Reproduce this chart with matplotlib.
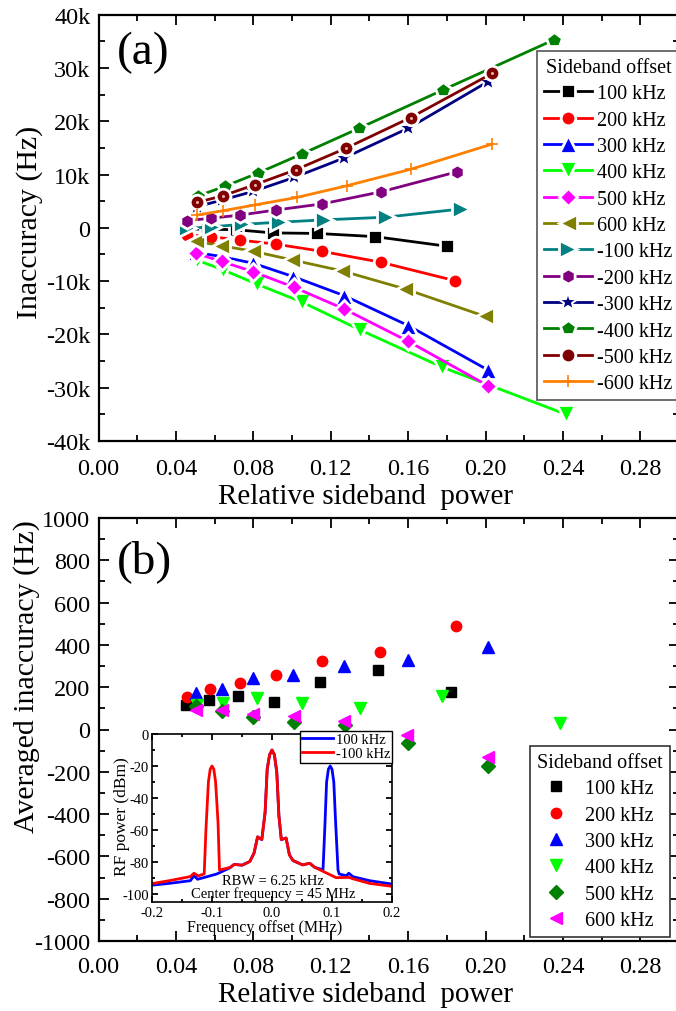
import matplotlib
matplotlib.use('Agg')
import matplotlib.pyplot as plt
from matplotlib.ticker import MultipleLocator

plt.rcParams['font.family'] = ['Liberation Serif', 'DejaVu Serif']
plt.rcParams['axes.unicode_minus'] = False

# ---------------- Panel (a) data ----------------
labels_a = ['100 kHz', '200 kHz', '300 kHz', '400 kHz', '500 kHz', '600 kHz',
            '-100 kHz', '-200 kHz', '-300 kHz', '-400 kHz', '-500 kHz', '-600 kHz']
a_100_x = [0.044, 0.056, 0.071, 0.090, 0.113, 0.143, 0.180]
a_100_y = [-200, -250, -350, -950, -1050, -1650, -3450]
a_200_x = [0.0455, 0.058, 0.073, 0.0915, 0.1153, 0.1458, 0.1840]
a_200_y = [-1300, -1650, -2300, -3050, -4400, -6450, -9900]
a_300_x = [0.0503, 0.0636, 0.0800, 0.1006, 0.1268, 0.1601, 0.2011]
a_300_y = [-4600, -5400, -6650, -9150, -12700, -18350, -26650]
a_400_x = [0.0507, 0.0645, 0.0817, 0.1053, 0.1351, 0.1776, 0.2416]
a_400_y = [-6050, -7900, -10550, -13950, -19150, -26150, -35000]
a_500_x = [0.0503, 0.0636, 0.0800, 0.1010, 0.1268, 0.1601, 0.2011]
a_500_y = [-4800, -6300, -8250, -11150, -15200, -21300, -29600]
a_600_x = [0.0503, 0.0633, 0.0800, 0.0998, 0.1256, 0.1583, 0.1997]
a_600_y = [-2550, -3350, -4400, -6000, -8050, -11450, -16600]
a_m100_x = [0.0458, 0.0585, 0.0740, 0.0930, 0.1165, 0.1484, 0.1875]
a_m100_y = [-100, 200, 650, 1050, 1500, 2000, 3550]
a_m200_x = [0.0458, 0.0579, 0.0731, 0.0917, 0.1156, 0.1458, 0.1851]
a_m200_y = [1350, 1800, 2400, 3350, 4500, 6750, 10500]
a_m300_x = [0.0507, 0.0636, 0.0800, 0.1010, 0.1268, 0.1601, 0.2011]
a_m300_y = [3950, 5200, 6850, 9450, 13100, 18700, 27400]
a_m400_x = [0.0515, 0.0653, 0.0825, 0.1053, 0.1347, 0.1781, 0.2354]
a_m400_y = [6000, 7800, 10300, 13900, 18700, 25900, 35300]
a_m500_x = [0.0510, 0.0641, 0.0808, 0.1019, 0.1279, 0.1613, 0.2035]
a_m500_y = [4800, 6000, 8100, 10900, 14950, 20700, 29000]
a_m600_x = [0.0510, 0.0641, 0.0808, 0.1024, 0.1283, 0.1614, 0.2032]
a_m600_y = [2400, 3200, 4300, 5700, 7900, 11000, 15700]

a_x = [a_100_x, a_200_x, a_300_x, a_400_x, a_500_x, a_600_x,
       a_m100_x, a_m200_x, a_m300_x, a_m400_x, a_m500_x, a_m600_x]
a_y = [a_100_y, a_200_y, a_300_y, a_400_y, a_500_y, a_600_y,
       a_m100_y, a_m200_y, a_m300_y, a_m400_y, a_m500_y, a_m600_y]
colors_a = ['#000000', '#ff0000', '#0000ff', '#00ff00', '#ff00ff', '#808000',
            '#008080', '#800080', '#000080', '#008000', '#800000', '#ff8000']
markers_a = ['s', 'o', '^', 'v', 'D', '<', '>', 'h', '*', 'p', 'o', '+']

xticks = [0.00, 0.04, 0.08, 0.12, 0.16, 0.20, 0.24, 0.28]
xticklabels = ['0.00', '0.04', '0.08', '0.12', '0.16', '0.20', '0.24', '0.28']
a_yticks = [-40000, -30000, -20000, -10000, 0, 10000, 20000, 30000, 40000]
a_yticklabels = ['-40k', '-30k', '-20k', '-10k', '0', '10k', '20k', '30k', '40k']

# ---------------- Panel (b) data ----------------
labels_b = ['100 kHz', '200 kHz', '300 kHz', '400 kHz', '500 kHz', '600 kHz']
b_100_x = [0.0452, 0.0572, 0.0722, 0.0908, 0.1143, 0.1446, 0.1824]
b_100_y = [115, 140, 160, 130, 225, 280, 178]
b_200_x = [0.0455, 0.0576, 0.0731, 0.0915, 0.1153, 0.1454, 0.1845]
b_200_y = [155, 190, 220, 256, 326, 368, 490]
b_300_x = [0.0503, 0.0636, 0.0800, 0.1006, 0.1268, 0.1601, 0.2011]
b_300_y = [174, 190, 245, 256, 298, 328, 392]
b_400_x = [0.0507, 0.0645, 0.0817, 0.1053, 0.1351, 0.1776, 0.2385]
b_400_y = [118, 126, 147, 126, 100, 158, 33]
b_500_x = [0.0503, 0.0639, 0.0800, 0.1010, 0.1273, 0.1601, 0.2015]
b_500_y = [110, 87, 58, 35, 20, -64, -174]
b_600_x = [0.0503, 0.0636, 0.0800, 0.1010, 0.1268, 0.1595, 0.2011]
b_600_y = [90, 91, 71, 63, 39, -25, -128]
b_x = [b_100_x, b_200_x, b_300_x, b_400_x, b_500_x, b_600_x]
b_y = [b_100_y, b_200_y, b_300_y, b_400_y, b_500_y, b_600_y]
colors_b = ['#000000', '#ff0000', '#0000ff', '#00ff00', '#008000', '#ff00ff']
markers_b = ['s', 'o', '^', 'v', 'D', '<']
b_yticks = [-1000, -800, -600, -400, -200, 0, 200, 400, 600, 800, 1000]
b_yticklabels = ['-1000', '-800', '-600', '-400', '-200', '0', '200', '400', '600', '800', '1000']

# ---------------- Inset spectrum data ----------------
spec_red_x = [-0.200, -0.170, -0.136, -0.130, -0.123, -0.113, -0.110, -0.106, -0.103, -0.100,
              -0.097, -0.094, -0.090, -0.0875, -0.070, -0.063, -0.050, -0.037, -0.030, -0.024,
              -0.017, -0.0115, -0.008, -0.004, 0.000, 0.004, 0.008, 0.0115, 0.0155, 0.0235,
              0.029, 0.035, 0.051, 0.063, 0.071, 0.107, 0.128, 0.135, 0.163, 0.200]
spec_red_y = [-93.5, -91.6, -89.1, -87.0, -88.7, -87.4, -59, -30, -22, -20,
              -22, -30, -55, -85, -83.4, -81.5, -82.0, -79.7, -74.5, -64.3,
              -66.0, -49, -22, -13, -10, -13, -24, -51, -66, -65,
              -75.5, -79.1, -81.8, -80.8, -83.3, -89.8, -89.6, -90.5, -93.4, -95.2]
spec_blue_x = [-0.200, -0.170, -0.136, -0.130, -0.124, -0.092, -0.070, -0.063, -0.050, -0.037,
               -0.030, -0.024, -0.017, -0.0115, -0.008, -0.004, 0.000, 0.004, 0.008, 0.0115,
               0.0155, 0.0235, 0.029, 0.035, 0.051, 0.063, 0.071, 0.085, 0.088, 0.091,
               0.094, 0.097, 0.100, 0.103, 0.106, 0.110, 0.112, 0.124, 0.128, 0.135,
               0.163, 0.200]
spec_blue_y = [-94.5, -93.3, -91.7, -88.6, -90.8, -87.5, -83.6, -81.5, -82.0, -79.7,
               -74.5, -64.3, -66.0, -49, -22, -13, -10, -13, -24, -51,
               -66, -65, -75.5, -79.1, -81.8, -80.8, -83.3, -84.9, -59, -30,
               -22, -20, -22, -30, -55, -85, -87.5, -88.6, -87.0, -89.2,
               -91.7, -93.8]

# ---------------- Figure ----------------
W, H = 676, 1012
fig = plt.figure(figsize=(W / 100, H / 100), dpi=100)


def fx(px):
    return px / W


def fy(py):
    return 1 - py / H


def style(ax, fs, major_len=7, minor_len=4, lw=1.6, xpad=9, ypad=6):
    for s in ax.spines.values():
        s.set_linewidth(lw)
    ax.tick_params(which='both', direction='in', top=True, right=True, width=1.3)
    ax.tick_params(which='major', length=major_len, labelsize=fs)
    ax.tick_params(axis='x', which='major', pad=xpad)
    ax.tick_params(axis='y', which='major', pad=ypad)
    ax.tick_params(which='minor', length=minor_len)


marker_size_a = {'s': 10, 'o': 10.5, '^': 12.5, 'v': 12.5, 'D': 9.5, '<': 12.5,
                 '>': 12.5, 'h': 11, '*': 14.5, 'p': 11.5, '+': 9}

# ---- Panel (a)
axA = fig.add_axes([fx(98.6), fy(442), (679 - 98.6) / W, (442 - 15.7) / H])
for xs, ys, c, m, lab in zip(a_x, a_y, colors_a, markers_a, labels_a):
    ms = marker_size_a[m]
    if m == '+':
        axA.plot(xs, ys, color=c, lw=2, marker=m, ms=ms, mew=1.2, label=lab)
    elif m == '*':
        axA.plot(xs, ys, color=c, lw=2, marker=m, ms=ms, mfc=c, mec='white', mew=1.5, label=lab)
    else:
        axA.plot(xs, ys, color=c, lw=2, marker=m, ms=ms, mfc=c, mec='white', mew=2.0, label=lab)
axA.plot(a_m500_x, a_m500_y, ls='none', marker='o', ms=2.2, color='#e8b0b0',
         mec='none', label='_nolegend_')
axA.set_xlim(0, 0.30)
axA.set_ylim(-40000, 40000)
axA.set_xticks(xticks, xticklabels)
axA.set_yticks(a_yticks, a_yticklabels)
axA.xaxis.set_minor_locator(MultipleLocator(0.02))
axA.yaxis.set_minor_locator(MultipleLocator(5000))
style(axA, 17.5, xpad=12)
legA = axA.legend(title='Sideband offset', loc='upper left',
                  bbox_to_anchor=(fx(537), fy(52)), bbox_transform=fig.transFigure,
                  borderaxespad=0, fontsize=14.5, title_fontsize=14.5, frameon=True,
                  fancybox=False, edgecolor='#555555', framealpha=1, handlelength=2.4,
                  handletextpad=0.25, labelspacing=0.36, borderpad=0.35, numpoints=1)
legA.get_frame().set_linewidth(1.2)

fig.text(fx(117), fy(53), '(a)', fontsize=34, ha='left', va='center')
fig.text(fx(365), fy(497), 'Relative sideband  power', fontsize=21, ha='center', va='center')
fig.text(fx(30), fy(222), 'Inaccuracy (Hz)', fontsize=21.5, rotation=90, ha='center', va='center')

# ---- Panel (b)
axB = fig.add_axes([fx(98.6), fy(942), (679 - 98.6) / W, (942 - 519) / H])
for xs, ys, c, m, lab in zip(b_x, b_y, colors_b, markers_b, labels_b):
    msz = 7.5 if m in ('s', 'o', 'D') else 9
    axB.plot(xs, ys, ls='none', marker=m, ms=msz, color=c, mec=c, label=lab)
axB.set_xlim(0, 0.30)
axB.set_ylim(-1000, 1000)
axB.set_xticks(xticks, xticklabels)
axB.set_yticks(b_yticks, b_yticklabels)
axB.xaxis.set_minor_locator(MultipleLocator(0.02))
axB.yaxis.set_minor_locator(MultipleLocator(100))
style(axB, 17.5, xpad=11)
legB = axB.legend(title='Sideband offset', loc='upper left',
                  bbox_to_anchor=(fx(530), fy(747)), bbox_transform=fig.transFigure,
                  borderaxespad=0, fontsize=14.5, title_fontsize=14.5, frameon=True,
                  fancybox=False, edgecolor='#333333', framealpha=1, handlelength=1.0,
                  handletextpad=0.9, labelspacing=0.36, borderpad=0.35, numpoints=1)
legB.get_frame().set_linewidth(1.2)

fig.text(fx(117), fy(562), '(b)', fontsize=34, ha='left', va='center')
fig.text(fx(365), fy(995), 'Relative sideband  power', fontsize=21, ha='center', va='center')
fig.text(fx(27), fy(677), 'Averaged inaccuracy (Hz)', fontsize=21.5, rotation=90, ha='center', va='center')

# ---- Inset
axI = fig.add_axes([fx(152), fy(903), 240 / W, 168 / H])
axI.plot(spec_blue_x, spec_blue_y, color='#0000ff', lw=2, label='100 kHz')
axI.plot(spec_red_x, spec_red_y, color='#ff0000', lw=2, label='-100 kHz')
axI.set_xlim(-0.2, 0.2)
axI.set_ylim(-105, 0)
axI.set_xticks([-0.2, -0.1, 0.0, 0.1, 0.2], ['-0.2', '-0.1', '0.0', '0.1', '0.2'])
axI.set_yticks([-100, -80, -60, -40, -20, 0], ['-100', '-80', '-60', '-40', '-20', '0'])
axI.xaxis.set_minor_locator(MultipleLocator(0.05))
axI.yaxis.set_minor_locator(MultipleLocator(10))
style(axI, 10.5, major_len=4, minor_len=2.5, lw=1.2, xpad=3, ypad=2)
legI = axI.legend(loc='upper left', bbox_to_anchor=(fx(300), fy(732)),
                  bbox_transform=fig.transFigure, borderaxespad=0, fontsize=10.5,
                  frameon=True, fancybox=False, edgecolor='#000000', framealpha=1,
                  handlelength=2.1, handletextpad=0.2, labelspacing=0.05, borderpad=0.15)
legI.get_frame().set_linewidth(1.0)
axI.text(0.505, 0.125, 'RBW = 6.25 kHz', transform=axI.transAxes, fontsize=10.5,
         ha='center', va='center')
axI.text(0.505, 0.050, 'Center frequency = 45 MHz', transform=axI.transAxes, fontsize=10.5,
         ha='center', va='center')
fig.text(fx(265), fy(928), 'Frequency offset (MHz)', fontsize=11.5, ha='center', va='center')
fig.text(fx(122), fy(817), 'RF power (dBm)', fontsize=12.5, rotation=90, ha='center', va='center')

fig.savefig('out.png', dpi=100)
